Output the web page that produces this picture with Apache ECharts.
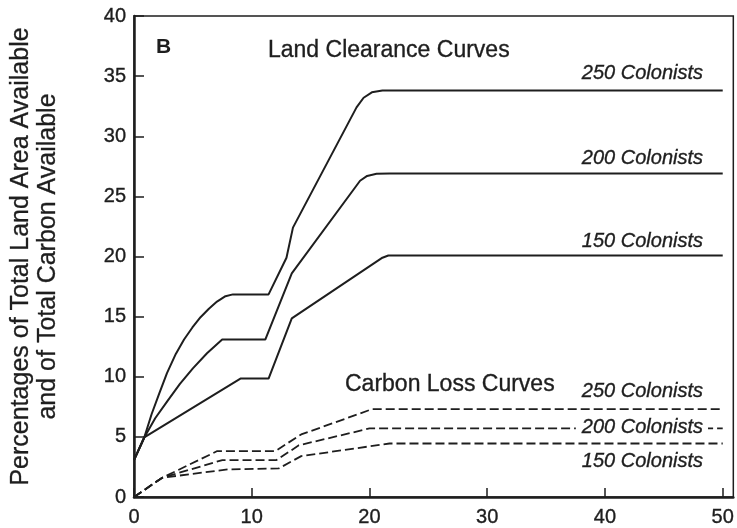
<!DOCTYPE html>
<html>
<head>
<meta charset="utf-8">
<script src="https://cdn.jsdelivr.net/npm/echarts@6/dist/echarts.min.js"></script>
<style>
html,body{margin:0;padding:0;background:#fff;}
#main{width:737px;height:528px;}
</style>
</head>
<body>
<div id="main"></div>
<script>
// Years since settlement (x) and percentages (y)
const xTicks = [0, 10, 20, 30, 40, 50];
const yTicks = [0, 5, 10, 15, 20, 25, 30, 35, 40];

// Land clearance curves (solid)
const land250 = [[0,3.07],[0.87,4.95],[1.5,6.9],[2.14,8.6],[2.8,10.3],[3.55,11.9],[4.25,13.1],[4.96,14.1],[5.65,14.95],[6.36,15.66],[7.05,16.25],[7.77,16.7],[8.4,16.85],[11.43,16.85],[12.95,19.9],[13.5,22.4],[18.9,32.4],[19.5,33.2],[20.2,33.65],[21.1,33.8],[50,33.8]];
const land200 = [[0,3.07],[0.87,4.95],[1.8,6.55],[2.85,8.0],[3.9,9.4],[5.0,10.7],[6.2,11.95],[7.49,13.09],[11.15,13.09],[13.4,18.6],[19.2,26.3],[19.8,26.7],[20.6,26.88],[21.7,26.9],[50,26.9]];
const land150 = [[0,3.07],[0.87,4.95],[9.04,9.85],[11.43,9.85],[13.4,14.85],[21.1,19.9],[21.6,20.08],[50,20.08]];

// Carbon loss curves (dashed)
const carbon250 = [[0,0],[2.4,1.6],[7.07,3.82],[12.0,3.82],[14.2,5.2],[20.2,7.3],[50,7.3]];
const carbon200 = [[0,0],[2.4,1.6],[7.5,3.07],[12.1,3.07],[14.0,4.3],[20.0,5.7],[50,5.7]];
const carbon150 = [[0,0],[2.4,1.6],[8.0,2.3],[12.3,2.38],[14.2,3.4],[21.7,4.45],[50,4.45]];

const seriesNames = ['250 Colonists','200 Colonists','150 Colonists'];
const yTitle = 'Percentages of Total Land Area Available\nand of Total Carbon Available';

const INK = '#1e1e1e';
const FONT = '"Liberation Sans", Arial, Helvetica, sans-serif';

function solid(name, data){
  return {type:'line', name:name, data:data, showSymbol:false, symbol:'none', smooth:false,
    lineStyle:{color:INK, width:2}, silent:true, z:3};
}
function dashed(name, data){
  return {type:'line', name:name, data:data, showSymbol:false, symbol:'none', smooth:false,
    lineStyle:{color:INK, width:1.8, type:[9,4]}, silent:true, z:3};
}
function label(text, x, y, size, italic, extra){
  const st = Object.assign({text:text, fill:INK, font:(italic?'italic ':'')+size+'px '+FONT,
    textAlign: italic ? 'right' : 'left', textVerticalAlign:'middle',
    stroke:INK, lineWidth:0.35}, extra || {});
  return {type:'text', x:x, y:y, z:100, style:st};
}

const chart = echarts.init(document.getElementById('main'), null, {renderer:'canvas'});
const option = {
  backgroundColor:'#fff',
  animation:false,
  grid:{left:133, top:16, right:1, bottom:31, show:true, borderColor:INK, borderWidth:1.5, backgroundColor:'transparent'},
  xAxis:{type:'value', min:0, max:50.9, interval:10,
    axisLine:{show:true, lineStyle:{color:INK, width:2.5}},
    axisTick:{show:true, inside:true, length:9, lineStyle:{color:INK, width:1.5}},
    axisLabel:{color:INK, fontFamily:FONT, fontSize:20, margin:10, showMaxLabel:false,
      textBorderColor:INK, textBorderWidth:0.35,
      formatter:function(v){ return xTicks.indexOf(v) >= 0 ? String(v) : ''; }},
    splitLine:{show:false}},
  yAxis:{type:'value', min:0, max:40, interval:5,
    name:yTitle, nameLocation:'middle', nameRotate:90, nameGap:72,
    nameTextStyle:{color:INK, fontFamily:FONT, fontSize:25, lineHeight:27, align:'center',
      textBorderColor:INK, textBorderWidth:0.3},
    axisLine:{show:true, lineStyle:{color:INK, width:2.5}},
    axisTick:{show:true, inside:true, length:10, lineStyle:{color:INK, width:1.5}},
    axisLabel:{color:INK, fontFamily:FONT, fontSize:20, margin:8,
      textBorderColor:INK, textBorderWidth:0.35,
      formatter:function(v){ return yTicks.indexOf(v) >= 0 ? String(v) : ''; }},
    splitLine:{show:false}},
  series:[
    solid(seriesNames[0], land250), solid(seriesNames[1], land200), solid(seriesNames[2], land150),
    dashed(seriesNames[0], carbon250), dashed(seriesNames[1], carbon200), dashed(seriesNames[2], carbon150)
  ],
  graphic:[
    {type:'text', left:156, top:37, z:100, style:{text:'B', fill:INK, font:'bold 21px '+FONT}},
    label('Land Clearance Curves', 268, 51, 23, false),
    label('Carbon Loss Curves', 345, 385, 23, false),
    label(seriesNames[0], 703, 73, 20, true),
    label(seriesNames[1], 703, 158, 20, true),
    label(seriesNames[2], 703, 241, 20, true),
    label(seriesNames[0], 703, 391, 20, true),
    label(seriesNames[1], 708, 427, 20, true, {backgroundColor:'#fff', padding:[2,5,2,6]}),
    label(seriesNames[2], 703, 461, 20, true)
  ]
};
chart.setOption(option);
</script>
</body>
</html>
